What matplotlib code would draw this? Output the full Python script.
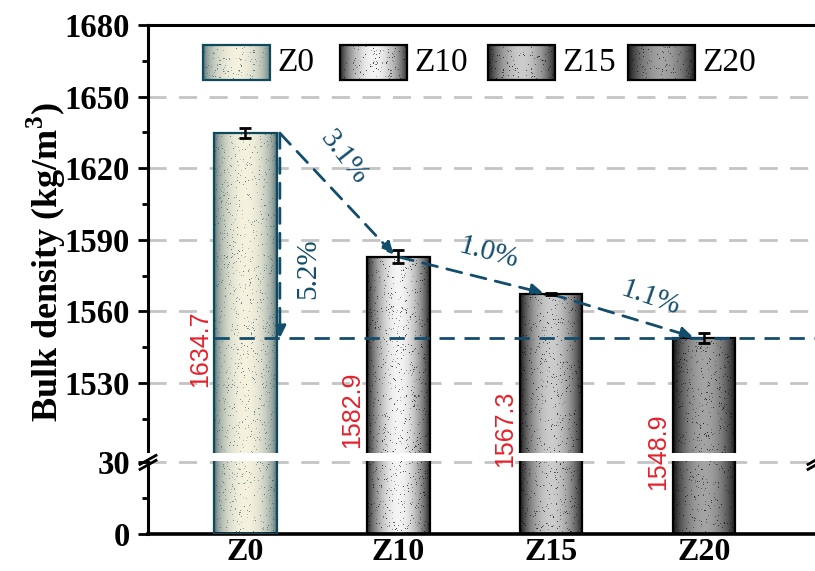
"""
Bulk density of the Z-series mixes, drawn on a broken y axis (0-30 / 1500-1680)
with cylinder-shaded, speckled bars and the relative drop between mixes.
"""
import numpy as np
import matplotlib.pyplot as plt
from matplotlib.patches import Rectangle

plt.rcParams['font.family'] = ['Liberation Serif', 'DejaVu Serif']
plt.rcParams['mathtext.fontset'] = 'custom'
plt.rcParams['mathtext.rm'] = 'Liberation Serif'
plt.rcParams['mathtext.bf'] = 'Liberation Serif:bold'

# data
samples = ['Z0', 'Z10', 'Z15', 'Z20']
density = [1634.7, 1582.9, 1567.3, 1548.9]
density_err = [2.0, 2.7, 0.4, 2.3]
step_drop = ['3.1%', '1.0%', '1.1%']
total_drop = '5.2%'

# bar shading: edge colour, centre colour, speckle colour, shading power
edge_rgb = [(0.04, 0.20, 0.27), (0.10, 0.10, 0.10), (0.06, 0.06, 0.06), (0.04, 0.04, 0.04)]
centre_rgb = [(0.96, 0.95, 0.87), (0.96, 0.96, 0.96), (0.80, 0.80, 0.80), (0.64, 0.64, 0.64)]
dot_rgb = [(0.16, 0.33, 0.40), (0.0, 0.0, 0.0), (0.0, 0.0, 0.0), (0.0, 0.0, 0.0)]
shade_pow = [0.35, 0.75, 0.75, 0.75]
outline = ['#0f4a5c', 'black', 'black', 'black']

TEAL = '#134d6c'
RED = '#e6212b'

# broken axis: 0..30 below, 1500..1680 above, GAP units of blank in between
LOW_TOP = 30.0
HIGH_BOT = 1500.0
GAP = 3.2


def fwd(v):
    v = np.asarray(v, dtype=float)
    mid = LOW_TOP + (v - LOW_TOP) * GAP / (HIGH_BOT - LOW_TOP)
    return np.where(v <= LOW_TOP, v,
                    np.where(v >= HIGH_BOT, v - HIGH_BOT + LOW_TOP + GAP, mid))


def inv(u):
    u = np.asarray(u, dtype=float)
    mid = LOW_TOP + (u - LOW_TOP) * (HIGH_BOT - LOW_TOP) / GAP
    return np.where(u <= LOW_TOP, u,
                    np.where(u >= LOW_TOP + GAP, u - LOW_TOP - GAP + HIGH_BOT, mid))


def cylinder(w_px, h_px, i, rng):
    """vertical bar texture: dark edges, light centre, random speckle"""
    u = (np.arange(w_px) + 0.5) / w_px
    t = np.sin(np.pi * u) ** shade_pow[i]
    e = np.array(edge_rgb[i])
    c = np.array(centre_rgb[i])
    row = e[None, :] + (c - e)[None, :] * t[:, None]
    img = np.repeat(row[None, :, :], h_px, axis=0)
    mask = rng.random((h_px, w_px)) < 0.045
    a = rng.uniform(0.25, 0.75, size=mask.sum())[:, None]
    img[mask] = img[mask] * (1 - a) + np.array(dot_rgb[i])[None, :] * a
    return np.clip(img, 0, 1)


rng = np.random.default_rng(7)

fig = plt.figure(figsize=(8.15, 5.71), dpi=100)
ax = fig.add_axes([148 / 815, 37 / 571, 668 / 815, 509 / 571])
ax.set_yscale('function', functions=(fwd, inv))
XMIN, XMAX = -0.638, 3.734
ax.set_xlim(XMIN, XMAX)
ax.set_ylim(0, 1680)

# linear transform in (x, scaled y) space, used for images and break patches
T = ax.transLimits + ax.transAxes
px_per_unit = 509 / float(fwd(1680))

x = np.arange(len(samples))
w = 0.41

# grid
for g in [30, 1530, 1560, 1590, 1620, 1650]:
    ax.axhline(g, color='#c4c4c4', lw=2, ls=(0, (6.5, 4.5)), zorder=0.5)

# bars
ax.bar(x, density, width=w, fill=False, edgecolor=outline, linewidth=1.6, zorder=3)
for i, v in enumerate(density):
    top = float(fwd(v))
    img = cylinder(63, int(top * px_per_unit), i, rng)
    ax.imshow(img, extent=(x[i] - w / 2, x[i] + w / 2, 0, top), transform=T,
              aspect='auto', interpolation='nearest', zorder=2)
ax.errorbar(x, density, yerr=density_err, fmt='none', ecolor='black',
            elinewidth=1.8, capsize=4, capthick=2, zorder=6)

# white band where the axis is broken
ax.add_patch(Rectangle((XMIN - 0.05, 30.5), XMAX - XMIN + 0.1, 3.4, transform=T,
                       facecolor='white', edgecolor='none', zorder=4, clip_on=False))
for xb in [0.0, 1.0]:
    for dy in [-2.5, 2.5]:
        yb = (fwd(31.9) * px_per_unit + dy) / 509
        ax.plot([xb - 8 / 668, xb + 8 / 668], [yb - 4.5 / 509, yb + 4.5 / 509],
                transform=ax.transAxes, color='black', lw=2, clip_on=False, zorder=7)

# value labels
label_y = [0.363, 0.244, 0.206, 0.161]
for i, v in enumerate(density):
    ax.text(x[i] - 0.30, label_y[i], f'{v:.1f}', transform=ax.get_xaxis_transform(),
            rotation=90, ha='center', va='center', color=RED, fontsize=18,
            family='Liberation Sans', zorder=7)

# drop annotations
dash = (0, (5.5, 3.5))
xr = x[0] + w / 2 + 0.02
ax.plot([x[0] - w / 2, XMAX], [density[3], density[3]], color=TEAL, lw=2, ls=dash, zorder=5)
ax.annotate('', xy=(xr, density[3]), xytext=(xr, density[0]),
            arrowprops=dict(arrowstyle='-|>', color=TEAL, lw=2, ls=dash,
                            mutation_scale=18, shrinkA=0, shrinkB=0), zorder=5)
ends = [(x[1] - 0.03, density[1] + 1.0), (x[2] - 0.05, density[2] + 0.4),
        (x[3] - 0.07, density[3] + 0.4)]
starts = [(xr, density[0]), (x[1], density[1]), (x[2], density[2])]
for s, e in zip(starts, ends):
    ax.annotate('', xy=e, xytext=s,
                arrowprops=dict(arrowstyle='-|>', color=TEAL, lw=2, ls=dash,
                                mutation_scale=18, shrinkA=0, shrinkB=0), zorder=5)
ax.text(0.64, 1624.5, step_drop[0], rotation=-52, ha='center', va='center',
        color=TEAL, fontsize=21)
ax.text(1.59, 1584.5, step_drop[1], rotation=-15, ha='center', va='center',
        color=TEAL, fontsize=21)
ax.text(2.65, 1565.5, step_drop[2], rotation=-19, ha='center', va='center',
        color=TEAL, fontsize=21)
ax.text(0.41, 1578, total_drop, rotation=90, ha='center', va='center',
        color=TEAL, fontsize=21)

# legend swatches
sw_x = [-0.278, 0.618, 1.587, 2.503]
sw_w = 0.44
sw_y0, sw_y1 = float(fwd(1680)) - 20 / px_per_unit, float(fwd(1680)) - 55 / px_per_unit
for i, name in enumerate(samples):
    img = cylinder(66, 34, i, rng)
    ax.imshow(img, extent=(sw_x[i], sw_x[i] + sw_w, sw_y1, sw_y0), transform=T,
              aspect='auto', interpolation='nearest', zorder=6)
    ax.add_patch(Rectangle((sw_x[i], sw_y1), sw_w, sw_y0 - sw_y1, transform=T,
                           fill=False, edgecolor=outline[i], lw=1.6, zorder=7))
    ax.text(sw_x[i] + sw_w + 0.05, (sw_y0 + sw_y1) / 2, name, transform=T,
            ha='left', va='center', fontsize=24, zorder=7)

# axes styling
ax.set_xticks(x)
ax.set_xticklabels(samples, fontsize=23, fontweight='bold')
ax.set_yticks([0, 30, 1530, 1560, 1590, 1620, 1650, 1680])
ax.set_yticklabels(['0', '30', '1530', '1560', '1590', '1620', '1650', '1680'],
                   fontsize=23.5, fontweight='bold')
ax.set_yticks([15, 1515, 1545, 1575, 1605, 1635, 1665], minor=True)
ax.tick_params(axis='x', length=0, pad=3)
ax.tick_params(axis='y', which='major', direction='out', length=7, width=2, pad=6)
ax.tick_params(axis='y', which='minor', direction='out', length=4, width=2)
ax.spines['right'].set_visible(False)
ax.spines['left'].set_linewidth(2.2)
ax.spines['top'].set_linewidth(2.2)
ax.spines['bottom'].set_linewidth(2.6)
ax.set_ylabel('Bulk density (kg/m$^{\\mathbf{3}}$)', fontsize=26, fontweight='bold')
ax.yaxis.set_label_coords(-0.12, 0.534)

fig.savefig('out.png', dpi=100)
